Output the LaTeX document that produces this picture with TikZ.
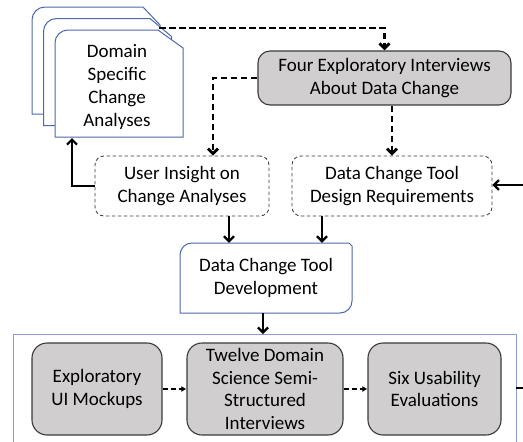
\documentclass[tikz,border=0pt]{standalone}
\usepackage{fontspec}
\setmainfont{Carlito}
\usetikzlibrary{arrows.meta}
\definecolor{docblue}{HTML}{4F68AC}
\definecolor{boxblue}{HTML}{8E9BCF}
\definecolor{grayfill}{HTML}{D0CECE}
\definecolor{grayline}{HTML}{3A3A3A}
\tikzset{
  txt/.style={font=\fontsize{19}{22.7}\selectfont, align=center, inner sep=0pt},
  graybox/.style={txt, draw=grayline, fill=grayfill, line width=1.1pt, rounded corners=12pt},
  dotbox/.style={txt, draw=grayline, line width=0.8pt, dash pattern=on 3.5pt off 2.5pt, rounded corners=9pt},
  doc/.style={draw=docblue, fill=white, line width=1pt},
  solidarrow/.style={line width=2.2pt, -{Straight Barb[length=5pt,width=10pt]}},
  solidline/.style={line width=2.2pt},
  bigdash/.style={line width=2.8pt, dash pattern=on 6.5pt off 3.5pt, -{Straight Barb[length=5pt,width=10pt]}},
  smalldash/.style={line width=2.2pt, dash pattern=on 5pt off 3pt, -{Latex[length=5pt,width=6pt]}}
}
\begin{document}
\begin{tikzpicture}[x=1pt,y=-1pt]
\useasboundingbox (0,0) rectangle (523,442);
% document stack
\draw[doc] (32,114) [rounded corners=13pt] -- (32,7) [sharp corners] -- (143,7) -- (160,25) -- (160,114) -- cycle;
\draw[doc] (43.5,125.5) [rounded corners=13pt] -- (43.5,18.5) [sharp corners] -- (150,18.5) -- (171.5,36.5) -- (171.5,125.5) -- cycle;
\draw[doc] (55,137) [rounded corners=13pt] -- (55,30) [sharp corners] -- (158,30) -- (183,48) -- (183,137) -- cycle;
\node[txt] (dsca) at (117,87) {Domain\\Specific\\Change\\Analyses};
\coordinate (docout) at (159,28);
\coordinate (docin) at (72,138);

% top gray box
\node[graybox, minimum width=253pt, minimum height=54pt] (four) at (384.5,78) {Four Exploratory Interviews\\About Data Change};

% dotted boxes
\node[dotbox, minimum width=174pt, minimum height=60pt] (user) at (182,186) {User Insight on\\Change Analyses};
\node[dotbox, minimum width=200pt, minimum height=60pt] (design) at (392,186) {Data Change Tool\\Design Requirements};

% development box
\path (266,278) coordinate (devc);
\draw[doc] (180,313) [rounded corners=12pt] -- (180,243) [sharp corners] -- (349,243) -- (352,246) [rounded corners=12pt] -- (352,313) [sharp corners] -- cycle;
\node[txt, minimum width=172pt, minimum height=70pt] (dev) at (devc) {Data Change Tool\\Development};

% container (open at the bottom)
\coordinate (cbl) at (13,445);
\coordinate (ctl) at (13,334);
\coordinate (ctr) at (516,334);
\coordinate (cbr) at (516,445);
\draw[boxblue, line width=1pt] (cbl) -- (ctl) -- (ctr) -- (cbr);
\coordinate (cright) at (516,388);
\coordinate (cout) at (523,388);

% bottom gray boxes
\node[graybox, rounded corners=15pt, minimum width=130pt, minimum height=92pt] (mock) at (97,389) {Exploratory\\UI Mockups};
\node[graybox, rounded corners=15pt, minimum width=156pt, minimum height=92pt] (twelve) at (265,389) {Twelve Domain\\Science Semi-\\Structured\\Interviews};
\node[graybox, rounded corners=15pt, minimum width=133pt, minimum height=92pt] (six) at (434.5,389) {Six Usability\\Evaluations};

% connectors
\draw[bigdash] (docout) -| (four.north);
\draw[bigdash] (four.west) -| ([xshift=31pt]user.north);
\draw[bigdash] (design.north |- four.south) -- (design.north);
\draw[solidarrow] (user.west) -| (docin);
\coordinate (rin) at (523,185);
\draw[solidarrow] (rin) -- (design.east |- rin);
\draw[solidarrow] ([xshift=47pt]user.south) -- ([xshift=47pt]user.south |- dev.north);
\draw[solidarrow] ([xshift=-70pt]design.south) -- ([xshift=-70pt]design.south |- dev.north);
\draw[solidarrow] ([xshift=-3pt]dev.south) -- ([xshift=-3pt]dev.south |- ctl);
\draw[smalldash] (mock.east) -- (twelve.west);
\draw[smalldash] (twelve.east) -- (six.west);
\draw[solidline] (cright) -- (cout);
\end{tikzpicture}
\end{document}
